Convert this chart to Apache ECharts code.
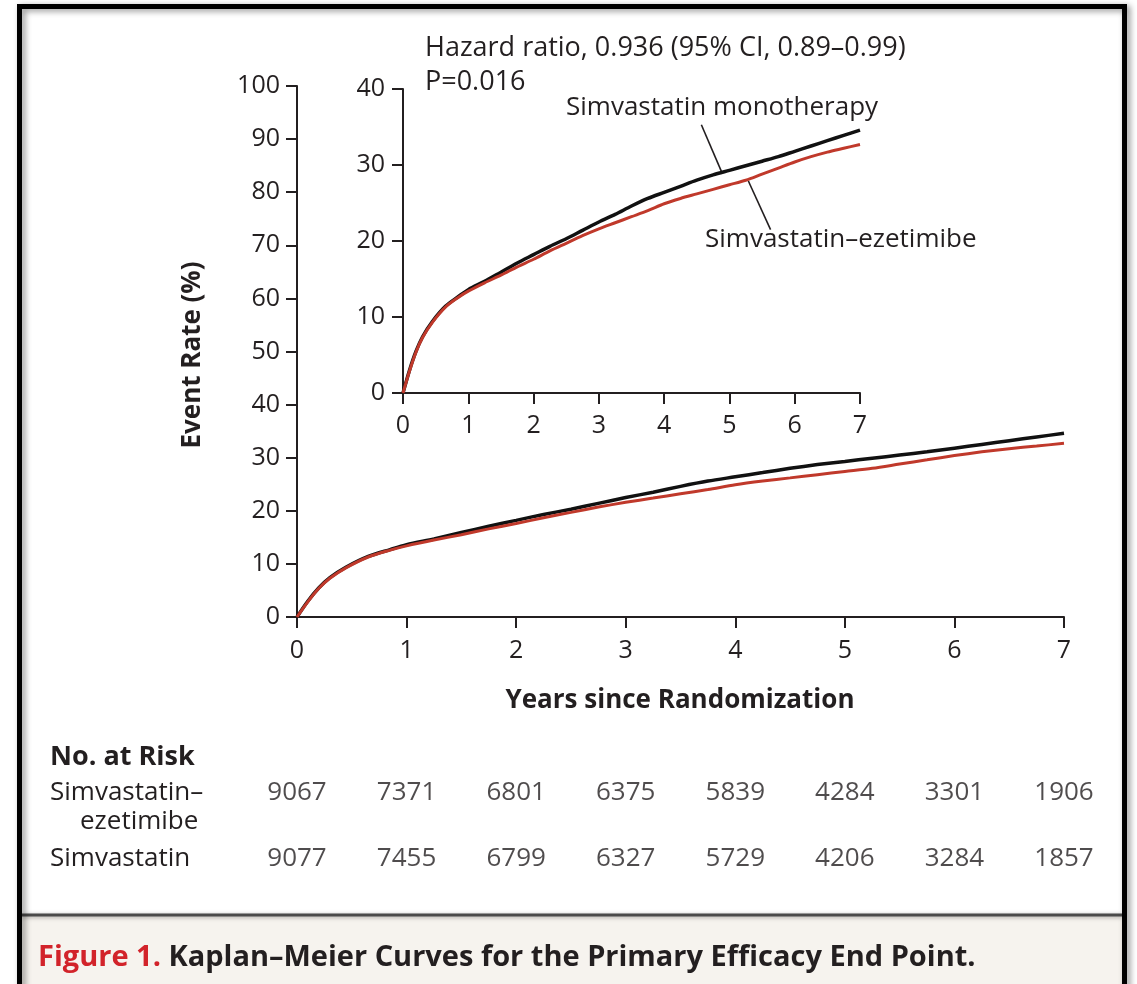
<!DOCTYPE html>
<html>
<head>
<meta charset="utf-8">
<script src="https://cdn.jsdelivr.net/npm/echarts@6/dist/echarts.min.js"></script>
<style>
  html, body { margin: 0; padding: 0; background: #fff; }
  #chart { width: 1137px; height: 984px; }
</style>
</head>
<body>
<div id="chart"></div>
<script>
// years since randomization, cumulative event rate (%)
const years = [0, 0.1, 0.2, 0.3, 0.45, 0.65, 0.85, 1.0, 1.25, 1.5, 1.75, 2.0, 2.25, 2.5, 2.75, 3.0,
  3.25, 3.5, 3.75, 4.0, 4.25, 4.5, 4.75, 5.0, 5.25, 5.5, 5.75, 6.0, 6.25, 6.5, 6.75, 7.0];
const monoRate = [0, 3.0, 5.5, 7.4, 9.4, 11.4, 12.7, 13.6, 14.7, 15.9, 17.1, 18.2, 19.3, 20.3, 21.4, 22.5,
  23.5, 24.6, 25.6, 26.4, 27.2, 28.0, 28.7, 29.3, 29.9, 30.5, 31.1, 31.8, 32.5, 33.2, 33.9, 34.6];
const ezeRate = [0, 2.9, 5.4, 7.3, 9.3, 11.3, 12.6, 13.4, 14.5, 15.5, 16.6, 17.6, 18.7, 19.7, 20.7, 21.6,
  22.4, 23.2, 24.0, 24.9, 25.6, 26.2, 26.8, 27.4, 28.0, 28.8, 29.6, 30.4, 31.1, 31.7, 32.2, 32.7];

// number at risk
const riskYears = [0, 1, 2, 3, 4, 5, 6, 7];
const riskEze = [9067, 7371, 6801, 6375, 5839, 4284, 3301, 1906];
const riskSimva = [9077, 7455, 6799, 6327, 5729, 4206, 3284, 1857];

const INK = '#231f20';
const RED = '#c0392b';
const FONT = 'Open Sans';

function pairs(xs, ys) {
  return xs.map((x, i) => [x, ys[i]]);
}

function axisStyle(extra, margin) {
  return Object.assign({
    type: 'value',
    axisLine: { show: true, lineStyle: { color: INK, width: 2 } },
    axisTick: { show: true, length: 11, lineStyle: { color: INK, width: 2 } },
    axisLabel: { color: INK, fontSize: 25, fontFamily: FONT, margin: margin },
    splitLine: { show: false }
  }, extra);
}

const chart = echarts.init(document.getElementById('chart'));

const tableData = [];
riskYears.forEach((y, i) => {
  tableData.push([y, 1, riskEze[i]]);
  tableData.push([y, 0, riskSimva[i]]);
});

chart.setOption({
  animation: false,
  backgroundColor: '#fff',
  grid: [
    { left: 297, right: 73, top: 86, bottom: 367 },   // main
    { left: 403, right: 277, top: 89, bottom: 591 },  // inset
    { left: 297, right: 73, top: 793, bottom: 125 }   // no. at risk
  ],
  xAxis: [
    axisStyle({ gridIndex: 0, min: 0, max: 7, interval: 1 }, 21),
    axisStyle({ gridIndex: 1, min: 0, max: 7, interval: 1 }, 20),
    { type: 'value', gridIndex: 2, min: 0, max: 7, show: false }
  ],
  yAxis: [
    axisStyle({ gridIndex: 0, min: 0, max: 100, interval: 10 }, 17),
    axisStyle({ gridIndex: 1, min: 0, max: 40, interval: 10 }, 18),
    { type: 'value', gridIndex: 2, min: 0, max: 1, show: false }
  ],
  series: [
    { name: 'Simvastatin monotherapy', type: 'line', xAxisIndex: 0, yAxisIndex: 0,
      data: pairs(years, monoRate), showSymbol: false, smooth: 0.3,
      lineStyle: { color: '#111', width: 3.5 } },
    { name: 'Simvastatin–ezetimibe', type: 'line', xAxisIndex: 0, yAxisIndex: 0,
      data: pairs(years, ezeRate), showSymbol: false, smooth: 0.3,
      lineStyle: { color: RED, width: 3 } },
    { name: 'Simvastatin monotherapy', type: 'line', xAxisIndex: 1, yAxisIndex: 1,
      data: pairs(years, monoRate), showSymbol: false, smooth: 0.3,
      lineStyle: { color: '#111', width: 3.5 } },
    { name: 'Simvastatin–ezetimibe', type: 'line', xAxisIndex: 1, yAxisIndex: 1,
      data: pairs(years, ezeRate), showSymbol: false, smooth: 0.3,
      lineStyle: { color: RED, width: 3 } },
    { name: 'No. at Risk', type: 'scatter', xAxisIndex: 2, yAxisIndex: 2,
      data: tableData, symbolSize: 1, itemStyle: { color: 'rgba(0,0,0,0)' },
      label: { show: true, position: 'inside', color: INK, fontSize: 26, fontFamily: FONT,
        formatter: p => p.value[2] } }
  ]
});

// leader lines anchored in the inset's data space
const monoA = chart.convertToPixel({ gridIndex: 1 }, [4.57, 35.3]);
const monoB = chart.convertToPixel({ gridIndex: 1 }, [4.88, 29.1]);
const ezeA = chart.convertToPixel({ gridIndex: 1 }, [5.29, 27.9]);
const ezeB = chart.convertToPixel({ gridIndex: 1 }, [5.63, 21.5]);

function label(text, x, y, opts, rotation) {
  return {
    type: 'text', x: x, y: y, rotation: rotation || 0,
    style: Object.assign({ text: text, fill: INK, fontSize: 26, fontFamily: FONT,
      verticalAlign: 'middle', align: 'left' }, opts || {})
  };
}

chart.setOption({
  graphic: [
    // caption panel
    { type: 'rect', shape: { x: 22, y: 916, width: 1100, height: 80 }, style: { fill: '#f6f3ee' }, z: 1 },
    { type: 'line', shape: { x1: 22, y1: 915, x2: 1122, y2: 915 },
      style: { stroke: '#4a4a4a', lineWidth: 3, shadowBlur: 4, shadowColor: 'rgba(0,0,0,0.35)', shadowOffsetY: 1 }, z: 2 },
    { type: 'text', x: 38, y: 958, z: 3,
      style: { text: '{r|Figure 1.} {k|Kaplan–Meier Curves for the Primary Efficacy End Point.}',
        verticalAlign: 'middle', fontFamily: FONT, fontSize: 29, fontWeight: 'bold',
        rich: { r: { fill: '#d2232a', fontSize: 29, fontWeight: 'bold', fontFamily: FONT },
                k: { fill: INK, fontSize: 29, fontWeight: 'bold', fontFamily: FONT } } } },
    // outer frame
    { type: 'rect', shape: { x: 19.5, y: 6.5, width: 1105, height: 1000 },
      style: { fill: 'none', stroke: '#000', lineWidth: 5, shadowBlur: 6,
        shadowColor: 'rgba(0,0,0,0.45)', shadowOffsetX: 3, shadowOffsetY: 2 }, z: 50 },
    // axis titles
    label('Event Rate (%)', 193, 355, { fontWeight: 'bold', align: 'center' }, Math.PI / 2),
    label('Years since Randomization', 680, 701, { fontWeight: 'bold', align: 'center' }),
    // inset annotations
    label('Hazard ratio, 0.936 (95% CI, 0.89–0.99)', 425, 48, { fontSize: 27 }),
    label('P=0.016', 425, 82, { fontSize: 27 }),
    label('Simvastatin monotherapy', 566, 108),
    label('Simvastatin–ezetimibe', 705, 240),
    { type: 'line', shape: { x1: monoA[0], y1: monoA[1], x2: monoB[0], y2: monoB[1] },
      style: { stroke: INK, lineWidth: 1.6 } },
    { type: 'line', shape: { x1: ezeA[0], y1: ezeA[1], x2: ezeB[0], y2: ezeB[1] },
      style: { stroke: INK, lineWidth: 1.6 } },
    // number at risk
    label('No. at Risk', 50, 757, { fontWeight: 'bold', fontSize: 27 }),
    label('Simvastatin–', 50, 793),
    label('ezetimibe', 80, 822),
    label('Simvastatin', 50, 859)
  ]
});
</script>
</body>
</html>
